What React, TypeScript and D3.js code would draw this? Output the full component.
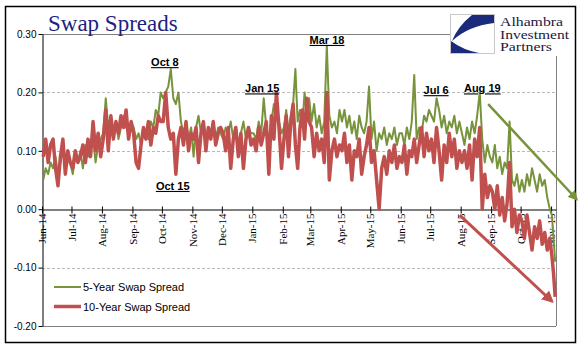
import React, { useRef, useEffect } from 'react';
import * as d3 from 'd3';

// month labels on the date axis (tick = first day of the month)
const monthLabels = [
  'Jun-14', 'Jul-14', 'Aug-14', 'Sep-14', 'Oct-14', 'Nov-14', 'Dec-14',
  'Jan-15', 'Feb-15', 'Mar-15', 'Apr-15', 'May-15', 'Jun-15', 'Jul-15',
  'Aug-15', 'Sep-15', 'Oct-15', 'Nov-15',
];
// how many readings were taken per month (the last month is cut short on Nov 6)
const perMonth = [12, 12, 12, 12, 12, 12, 12, 12, 12, 12, 12, 12, 12, 12, 12, 12, 12, 3];

// 5-Year swap spread
const fiveYear = [
  0.05, 0.07, 0.06, 0.08, 0.07, 0.09, 0.06, 0.08, 0.10, 0.07, 0.09, 0.08, // Jun-14
  0.06, 0.09, 0.08, 0.10, 0.07, 0.11, 0.09, 0.10, 0.12, 0.08, 0.11, 0.12, // Jul-14
  0.13, 0.19, 0.14, 0.16, 0.13, 0.15, 0.12, 0.14, 0.16, 0.14, 0.13, 0.15, // Aug-14
  0.14, 0.12, 0.13, 0.11, 0.14, 0.13, 0.12, 0.15, 0.14, 0.17, 0.16, 0.20, // Sep-14
  0.19, 0.20, 0.21, 0.24, 0.19, 0.18, 0.20, 0.15, 0.13, 0.15, 0.12, 0.14, // Oct-14
  0.09, 0.14, 0.16, 0.13, 0.15, 0.12, 0.14, 0.13, 0.15, 0.12, 0.14, 0.13, // Nov-14
  0.12, 0.14, 0.13, 0.15, 0.12, 0.14, 0.11, 0.13, 0.15, 0.12, 0.14, 0.13, // Dec-14
  0.13, 0.12, 0.15, 0.13, 0.19, 0.14, 0.12, 0.15, 0.18, 0.17, 0.15, 0.13, // Jan-15
  0.14, 0.17, 0.13, 0.16, 0.18, 0.24, 0.15, 0.17, 0.14, 0.20, 0.16, 0.19, // Feb-15
  0.15, 0.18, 0.14, 0.16, 0.13, 0.15, 0.28, 0.16, 0.14, 0.15, 0.13, 0.17, // Mar-15
  0.15, 0.17, 0.14, 0.16, 0.13, 0.15, 0.12, 0.16, 0.14, 0.13, 0.15, 0.21, // Apr-15
  0.12, 0.15, 0.10, 0.13, 0.12, 0.14, 0.11, 0.13, 0.12, 0.14, 0.11, 0.13, // May-15
  0.13, 0.11, 0.14, 0.12, 0.15, 0.23, 0.12, 0.14, 0.13, 0.16, 0.15, 0.17, // Jun-15
  0.16, 0.15, 0.19, 0.17, 0.14, 0.16, 0.13, 0.15, 0.14, 0.16, 0.13, 0.15, // Jul-15
  0.13, 0.11, 0.14, 0.12, 0.15, 0.13, 0.16, 0.20, 0.12, 0.08, 0.11, 0.09, // Aug-15
  0.08, 0.11, 0.07, 0.09, 0.06, 0.08, 0.07, 0.15, 0.05, 0.04, 0.06, 0.03, // Sep-15
  0.05, 0.03, 0.06, 0.04, 0.07, 0.05, 0.03, 0.06, 0.04, 0.05, 0.02, 0.00, // Oct-15
  -0.01, -0.05, -0.09, // Nov-15
];

// 10-Year swap spread
const tenYear = [
  0.09, 0.12, 0.08, 0.11, 0.12, 0.07, 0.04, 0.09, 0.12, 0.06, 0.10, 0.08, // Jun-14
  0.07, 0.10, 0.08, 0.09, 0.11, 0.08, 0.12, 0.09, 0.15, 0.10, 0.13, 0.09, // Jul-14
  0.12, 0.17, 0.10, 0.16, 0.12, 0.15, 0.13, 0.16, 0.14, 0.17, 0.12, 0.15, // Aug-14
  0.13, 0.08, 0.07, 0.11, 0.14, 0.12, 0.15, 0.11, 0.14, 0.13, 0.16, 0.15, // Sep-14
  0.15, 0.20, 0.14, 0.12, 0.13, 0.06, 0.12, 0.14, 0.11, 0.15, 0.10, 0.13, // Oct-14
  0.12, 0.14, 0.08, 0.13, 0.15, 0.10, 0.14, 0.12, 0.15, 0.11, 0.13, 0.14, // Nov-14
  0.13, 0.10, 0.14, 0.07, 0.12, 0.14, 0.09, 0.13, 0.07, 0.12, 0.14, 0.11, // Dec-14
  0.12, 0.10, 0.14, 0.11, 0.13, 0.15, 0.06, 0.16, 0.12, 0.20, 0.14, 0.07, // Jan-15
  0.12, 0.16, 0.09, 0.15, 0.18, 0.11, 0.07, 0.14, 0.17, 0.12, 0.19, 0.15, // Feb-15
  0.14, 0.09, 0.13, 0.10, 0.12, 0.08, 0.20, 0.05, 0.10, 0.12, 0.09, 0.11, // Mar-15
  0.10, 0.13, 0.08, 0.11, 0.05, 0.10, 0.09, 0.12, 0.06, 0.09, 0.11, 0.14, // Apr-15
  0.08, 0.10, 0.05, 0.00, 0.07, 0.09, 0.06, 0.10, 0.08, 0.11, 0.07, 0.09, // May-15
  0.08, 0.11, 0.06, 0.10, 0.09, 0.12, 0.08, 0.11, 0.14, 0.09, 0.13, 0.10, // Jun-15
  0.12, 0.08, 0.14, 0.10, 0.05, 0.11, 0.08, 0.13, 0.09, 0.12, 0.07, 0.10, // Jul-15
  0.08, 0.10, 0.07, 0.11, 0.05, 0.12, 0.09, 0.14, 0.00, 0.06, 0.02, 0.04, // Aug-15
  0.03, 0.00, 0.04, -0.01, 0.02, -0.02, 0.01, 0.08, -0.03, 0.00, -0.04, -0.01, // Sep-15
  -0.02, -0.05, -0.01, -0.04, -0.07, -0.03, -0.05, -0.02, -0.06, -0.04, -0.07, -0.05, // Oct-15
  -0.08, -0.11, -0.15, // Nov-15
];

const yTicks = [0.3, 0.2, 0.1, 0, -0.1, -0.2];

// call-outs, anchored in data space (date, value)
const notes = [
  { text: 'Oct 8', date: '2014-10-04', value: 0.245 },
  { text: 'Oct 15', date: '2014-10-12', value: 0.033 },
  { text: 'Jan 15', date: '2015-01-11', value: 0.2 },
  { text: 'Mar 18', date: '2015-03-18', value: 0.283 },
  { text: 'Jul 6', date: '2015-07-07', value: 0.197 },
  { text: 'Aug 19', date: '2015-08-23', value: 0.2 },
];

// trend arrows drawn on top of the chart
const arrows = [
  { from: ['2015-08-29', 0.18], to: ['2015-11-27', 0.017], color: '#77933c', width: 2.5 },
  { from: ['2015-07-31', -0.01], to: ['2015-11-02', -0.158], color: '#c0504d', width: 3 },
];

const logoLines = ['Alhambra', 'Investment', 'Partners'];

const GREEN = '#77933c';
const RED = '#c0504d';

function App() {
  const ref = useRef<SVGSVGElement>(null);

  useEffect(() => {
    const svg = d3.select(ref.current);
    svg.selectAll('*').remove(); // start clean

    const left = 42, right = 556, top = 34, bottom = 326;
    const parse = d3.timeParse('%Y-%m-%d');

    // dates for every reading: spread evenly over each month
    const dates: Date[] = [];
    perMonth.forEach((n, m) => {
      const start = new Date(2014, 5 + m, 1);
      const span = m === perMonth.length - 1 ? 5 : d3.timeDay.count(start, new Date(2014, 6 + m, 1));
      for (let k = 0; k < n; k++) {
        dates.push(new Date(start.getTime() + ((k + 0.5) * span / n) * 864e5));
      }
    });
    const monthStarts = monthLabels.map((_, m) => new Date(2014, 5 + m, 1));

    const x = d3.scaleTime()
      .domain([new Date(2014, 5, 1), new Date(2015, 10, 6)])
      .range([left, right]);
    const y = d3.scaleLinear().domain([-0.2, 0.3]).range([bottom, top]);

    svg.append('rect').attr('width', 580).attr('height', 361).attr('fill', '#fff');
    svg.append('rect')
      .attr('x', 5.5).attr('y', 6.5).attr('width', 570).attr('height', 336)
      .attr('fill', 'none').attr('stroke', '#000').attr('stroke-width', 1.5);

    // dashed gridlines
    svg.append('g').selectAll('line')
      .data([0.2, 0.1, -0.1])
      .join('line')
      .attr('x1', left).attr('x2', right)
      .attr('y1', d => Math.round(y(d)) + 0.5).attr('y2', d => Math.round(y(d)) + 0.5)
      .attr('stroke', '#a6a6a6').attr('stroke-dasharray', '3,2').attr('stroke-width', 0.8);

    // plot frame (top stops at the logo, right starts under it)
    const frame = svg.append('g').attr('stroke', '#808080').attr('stroke-width', 1);
    frame.append('line').attr('x1', left).attr('x2', 450)
      .attr('y1', Math.round(y(0.3)) + 0.5).attr('y2', Math.round(y(0.3)) + 0.5);
    frame.append('line').attr('x1', right + 0.5).attr('x2', right + 0.5)
      .attr('y1', 56).attr('y2', y(-0.2));
    frame.append('line').attr('x1', left).attr('x2', right)
      .attr('y1', Math.round(y(-0.2)) + 0.5).attr('y2', Math.round(y(-0.2)) + 0.5);

    // y axis
    const yAxis = svg.append('g')
      .attr('transform', `translate(${left + 0.5},0)`)
      .call(d3.axisLeft(y).tickValues(yTicks).tickSizeInner(4).tickSizeOuter(0)
        .tickFormat(d => (+d).toFixed(2)));
    yAxis.select('.domain').attr('stroke', '#000');
    yAxis.selectAll('.tick line').attr('stroke', '#000');
    yAxis.selectAll('text')
      .attr('font-family', '"Liberation Sans", Arial, sans-serif')
      .attr('font-size', 10).attr('fill', '#000').attr('x', -6);

    // date axis on the zero line
    const xAxis = svg.append('g')
      .attr('transform', `translate(0,${Math.round(y(0)) + 0.5})`)
      .call(d3.axisBottom(x).tickValues(monthStarts).tickSizeInner(4).tickSizeOuter(0)
        .tickFormat((_, i) => monthLabels[i]));
    xAxis.select('.domain').attr('stroke', '#000');
    xAxis.selectAll('.tick line').attr('stroke', '#000').attr('y1', -3);
    xAxis.selectAll('text')
      .attr('font-family', '"Liberation Serif", "Times New Roman", serif')
      .attr('font-size', 11).attr('fill', '#000')
      .attr('transform', 'rotate(-90)')
      .attr('x', -4).attr('y', 0).attr('dy', '0.33em')
      .style('text-anchor', 'end');

    // the two series, 10-year on top
    const line = d3.line<number>()
      .x((_, i) => x(dates[i]))
      .y(d => y(d))
      .curve(d3.curveLinear);

    svg.append('path').datum(fiveYear)
      .attr('d', line).attr('fill', 'none')
      .attr('stroke', GREEN).attr('stroke-width', 2).attr('stroke-linejoin', 'round');
    svg.append('path').datum(tenYear)
      .attr('d', line).attr('fill', 'none')
      .attr('stroke', RED).attr('stroke-width', 3.5).attr('stroke-linejoin', 'round');

    // title
    svg.append('text')
      .attr('x', 48).attr('y', 31)
      .attr('font-family', '"Liberation Serif", "Times New Roman", serif')
      .attr('font-size', 23).attr('fill', '#1f1f7f')
      .text('Swap Spreads');

    // logo
    const logo = svg.append('g');
    logo.append('rect').attr('x', 450.5).attr('y', 14.5).attr('width', 44).attr('height', 39)
      .attr('fill', '#fff').attr('stroke', '#c8c8c8');
    logo.append('path')
      .attr('d', 'M472,15 L494,15 L494,23 Q468,26 452,41 Q458,26 472,15 Z')
      .attr('fill', '#1b2a7a');
    logo.append('path')
      .attr('d', 'M451,41 Q463,50 479,53 L451,53 Z')
      .attr('fill', '#1b2a7a');
    const logoWidths = [63, 69, 52];
    logo.selectAll('text')
      .data(logoLines)
      .join('text')
      .attr('x', 500).attr('y', (_, i) => [26, 38.5, 50.5][i])
      .attr('font-family', '"Liberation Serif", "Times New Roman", serif')
      .attr('font-size', 13.5).attr('fill', '#1a1a3c')
      .attr('textLength', (_, i) => logoWidths[i])
      .attr('lengthAdjust', 'spacingAndGlyphs')
      .text(d => d);

    // legend
    const legend = svg.append('g').attr('font-family', '"Liberation Sans", Arial, sans-serif')
      .attr('font-size', 11);
    [{ name: '5-Year Swap Spread', color: GREEN, w: 2 }, { name: '10-Year Swap Spread', color: RED, w: 3.5 }]
      .forEach((s, i) => {
        const ly = 287 + i * 19.5;
        legend.append('line').attr('x1', 54).attr('x2', 81).attr('y1', ly).attr('y2', ly)
          .attr('stroke', s.color).attr('stroke-width', s.w);
        legend.append('text').attr('x', 83).attr('y', ly + 4).attr('fill', '#000').text(s.name);
      });

    // call-out labels
    svg.append('g').selectAll('text')
      .data(notes)
      .join('text')
      .attr('x', d => x(parse(d.date)!))
      .attr('y', d => y(d.value))
      .attr('text-anchor', 'middle')
      .attr('font-family', '"Liberation Sans", Arial, sans-serif')
      .attr('font-weight', 'bold').attr('font-size', 11)
      .attr('text-decoration', 'underline')
      .attr('fill', '#000')
      .text(d => d.text);

    // arrows
    const defs = svg.append('defs');
    arrows.forEach((a, i) => {
      defs.append('marker')
        .attr('id', `head${i}`)
        .attr('viewBox', '0 0 10 10').attr('refX', 8).attr('refY', 5)
        .attr('markerWidth', 4).attr('markerHeight', 4)
        .attr('orient', 'auto')
        .append('path').attr('d', 'M0,0 L10,5 L0,10 Z').attr('fill', a.color);
      svg.append('line')
        .attr('x1', x(parse(a.from[0] as string)!)).attr('y1', y(a.from[1] as number))
        .attr('x2', x(parse(a.to[0] as string)!)).attr('y2', y(a.to[1] as number))
        .attr('stroke', a.color).attr('stroke-width', a.width)
        .attr('marker-end', `url(#head${i})`);
    });
  }, []);

  return (
    <svg ref={ref} width={580} height={361}
      style={{ position: 'absolute', left: 0, top: 0, display: 'block' }} />
  );
}

export default App;
